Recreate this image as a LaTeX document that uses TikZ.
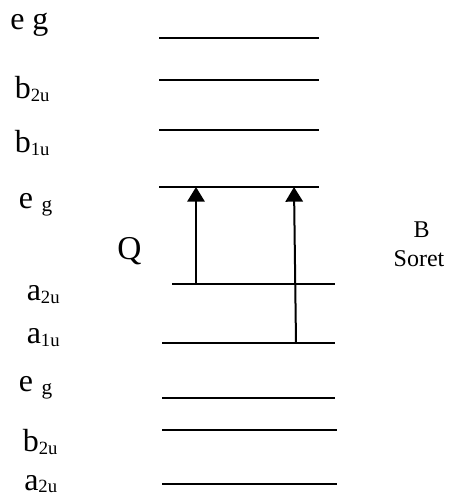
\documentclass[tikz,border=0pt]{standalone}
\usepackage{fontspec}
\setmainfont{Liberation Serif}
\usetikzlibrary{arrows.meta}
\newcommand\lvsub[1]{\raisebox{-2.2pt}{\fontsize{14}{14}\selectfont #1}}
\newcommand\lveg{e\hspace{6.5pt}\raisebox{-2pt}{\fontsize{16}{16}\selectfont g}}
\begin{document}
\begin{tikzpicture}[x=0.75pt,y=-0.75pt,
  level/.style={line width=1.5pt},
  arr/.style={line width=1.5pt,-{Triangle[width=13pt,length=11pt]}},
  lab/.style={anchor=base west,inner sep=0pt,font=\fontsize{24}{24}\selectfont},
  side/.style={anchor=base,inner sep=0pt,font=\fontsize{18}{18}\selectfont}]
\useasboundingbox (0,0) rectangle (451,498);
% levels
\coordinate (l1a) at (159,38.5); \coordinate (l1b) at (319,38.5);
\coordinate (l2a) at (159,80);   \coordinate (l2b) at (319,80);
\coordinate (l3a) at (159,130);  \coordinate (l3b) at (319,130);
\coordinate (l4a) at (159,187);  \coordinate (l4b) at (319,187);
\coordinate (l5a) at (172,284);  \coordinate (l5b) at (335,284);
\coordinate (l6a) at (162,343);  \coordinate (l6b) at (335,343);
\coordinate (l7a) at (162,398);  \coordinate (l7b) at (335,398);
\coordinate (l8a) at (162,430);  \coordinate (l8b) at (337,430);
\coordinate (l9a) at (162,484);  \coordinate (l9b) at (337,484);
\foreach \i in {1,...,9} \draw[level] (l\i a) -- (l\i b);
% transitions
\coordinate (qs) at (196,284); \coordinate (qe) at (196,187);
\coordinate (bs) at (296,343); \coordinate (be) at (294,187);
\draw[arr] (qs) -- (qe);
\draw[arr] (bs) -- (be);
% labels
\node[lab] (t1) at (10,30) {e g};
\node[lab] (t2) at (14.5,99) {b\lvsub{2u}};
\node[lab] (t3) at (14.5,153) {b\lvsub{1u}};
\node[lab] (t4) at (18.5,209) {\lveg};
\node[lab] (t5) at (26.5,300.5) {a\lvsub{2u}};
\node[lab] (t6) at (26.5,343.5) {a\lvsub{1u}};
\node[lab] (t7) at (18.5,391.5) {\lveg};
\node[lab] (t8) at (22.5,451.5) {b\lvsub{2u}};
\node[lab,text depth=0pt] (t9) at (24,490) {a\lvsub{2u}};
\node[anchor=base west,inner sep=0pt,font=\fontsize{25}{25}\selectfont] (q) at (117,259) {Q};
\node[side] (b) at (421.5,237.5) {B};
\node[side] (s) at (419,267) {Soret};
\end{tikzpicture}
\end{document}
